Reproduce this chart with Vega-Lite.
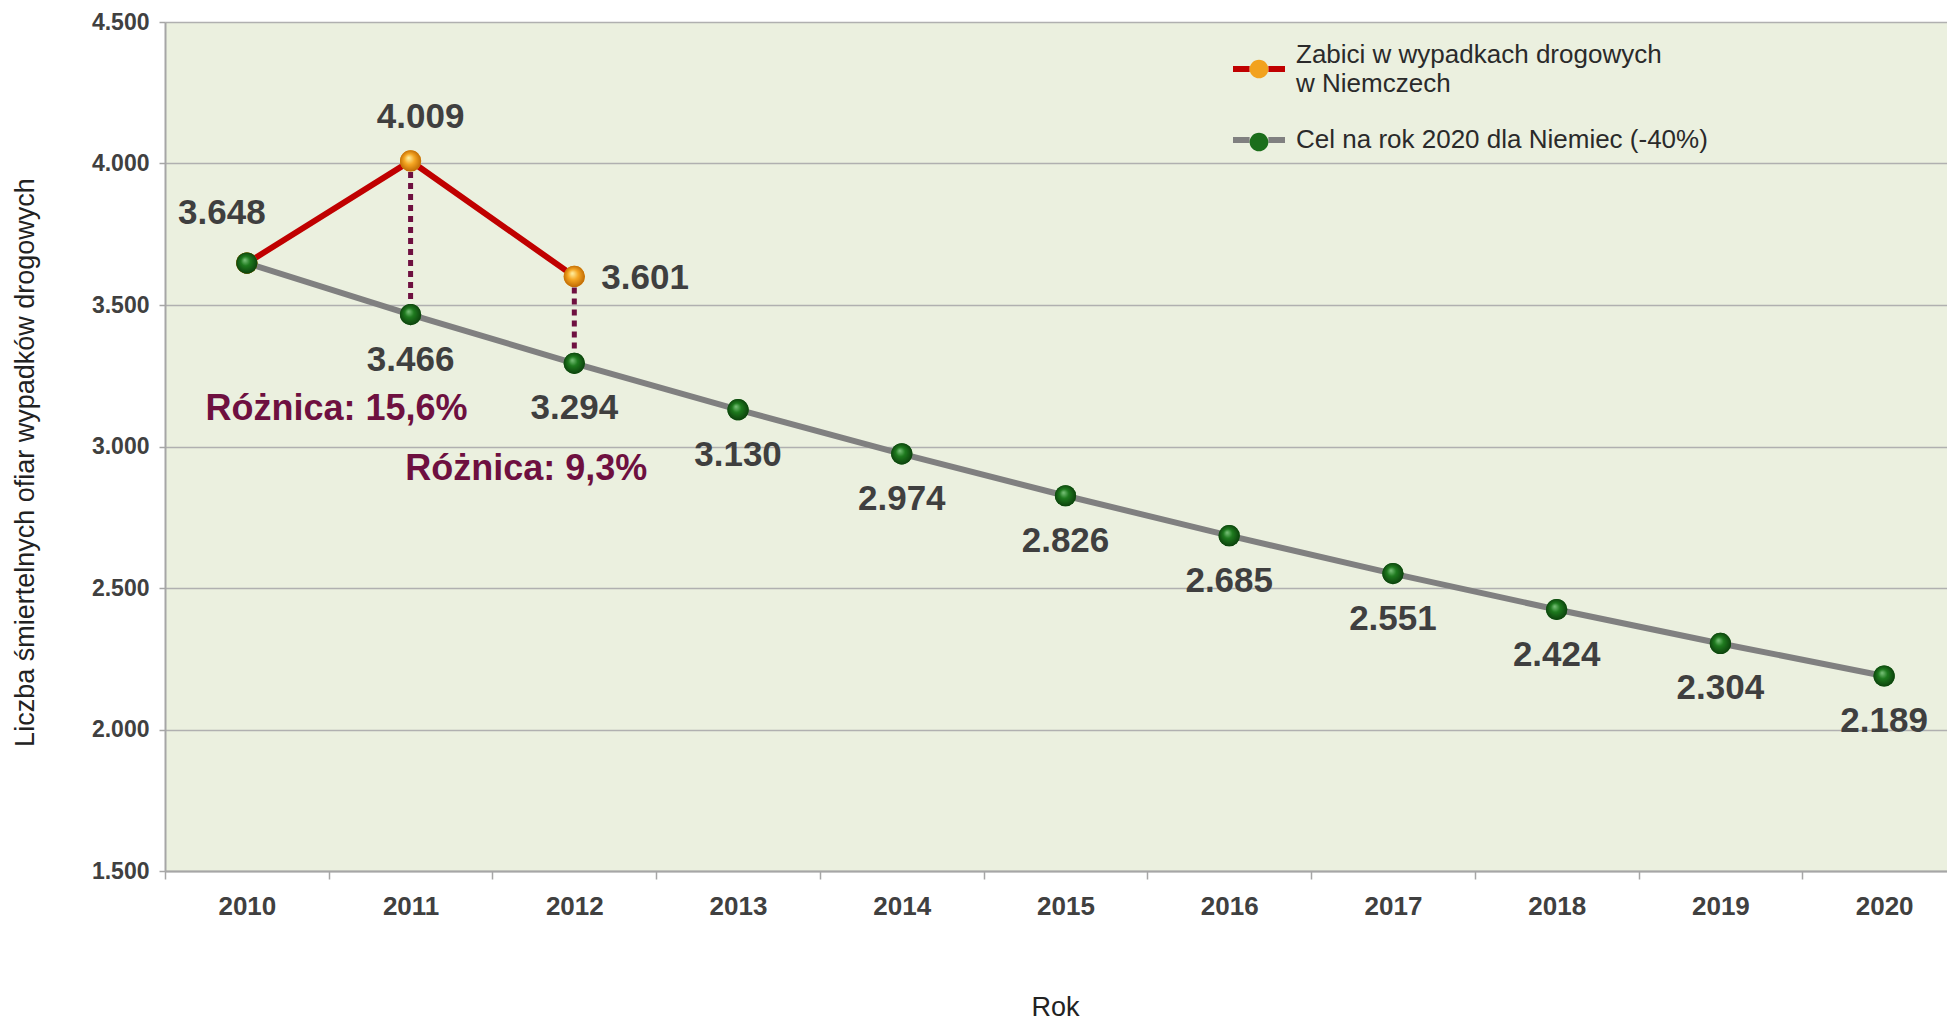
{
  "$schema": "https://vega.github.io/schema/vega-lite/v6.json",
  "autosize": "none",
  "width": 1782,
  "height": 849,
  "padding": {"left": 165, "top": 22, "right": 0, "bottom": 149},
  "background": "#FFFFFF",
  "config": {
    "locale": {"number": {"decimal": ",", "thousands": ".", "grouping": [3], "currency": ["", ""]}},
    "view": {"fill": "#EBF0DF", "stroke": null},
    "font": "Liberation Sans"
  },
  "datasets": {
    "series": [
      {"year": 2010, "value": 3648, "series": "Zabici w wypadkach drogowych w Niemczech"},
      {"year": 2011, "value": 4009, "series": "Zabici w wypadkach drogowych w Niemczech"},
      {"year": 2012, "value": 3601, "series": "Zabici w wypadkach drogowych w Niemczech"},
      {"year": 2010, "value": 3648, "series": "Cel na rok 2020 dla Niemiec (-40%)"},
      {"year": 2011, "value": 3466, "series": "Cel na rok 2020 dla Niemiec (-40%)"},
      {"year": 2012, "value": 3294, "series": "Cel na rok 2020 dla Niemiec (-40%)"},
      {"year": 2013, "value": 3130, "series": "Cel na rok 2020 dla Niemiec (-40%)"},
      {"year": 2014, "value": 2974, "series": "Cel na rok 2020 dla Niemiec (-40%)"},
      {"year": 2015, "value": 2826, "series": "Cel na rok 2020 dla Niemiec (-40%)"},
      {"year": 2016, "value": 2685, "series": "Cel na rok 2020 dla Niemiec (-40%)"},
      {"year": 2017, "value": 2551, "series": "Cel na rok 2020 dla Niemiec (-40%)"},
      {"year": 2018, "value": 2424, "series": "Cel na rok 2020 dla Niemiec (-40%)"},
      {"year": 2019, "value": 2304, "series": "Cel na rok 2020 dla Niemiec (-40%)"},
      {"year": 2020, "value": 2189, "series": "Cel na rok 2020 dla Niemiec (-40%)"}
    ],
    "gaps": [
      {"year": 2011, "top": 4009, "bottom": 3466},
      {"year": 2012, "top": 3601, "bottom": 3294}
    ],
    "notes": [
      {"year": 2011, "value": 3134, "text": "Różnica: 15,6%"},
      {"year": 2012, "value": 2919, "text": "Różnica: 9,3%"}
    ]
  },
  "encoding": {
    "x": {
      "field": "year", "type": "ordinal", "title": "Rok",
      "scale": {"range": [0, 1801], "paddingInner": 0, "paddingOuter": 0},
      "axis": {
        "labelAngle": 0, "labelFontSize": 26, "labelFontWeight": "bold", "labelColor": "#404040",
        "labelPadding": 14, "tickBand": "extent", "tickSize": 8, "tickColor": "#A6A6A6", "tickWidth": 1.5,
        "domainColor": "#A6A6A6", "domainWidth": 2,
        "titleFontSize": 27, "titleFontWeight": "normal", "titleColor": "#222222",
        "titleY": 136, "titleBaseline": "middle", "titleX": 890
      }
    },
    "y": {
      "field": "value", "type": "quantitative",
      "title": "Liczba śmiertelnych ofiar wypadków drogowych",
      "scale": {"domain": [1500, 4500], "nice": false, "zero": false},
      "axis": {
        "values": [1500, 2000, 2500, 3000, 3500, 4000, 4500], "format": ",.0f",
        "labelFontSize": 23, "labelFontWeight": "bold", "labelColor": "#404040", "labelPadding": 10,
        "tickSize": 6, "tickColor": "#A6A6A6", "tickWidth": 1.5,
        "domainColor": "#A6A6A6", "domainWidth": 2,
        "grid": true, "gridColor": "#B0B0B0", "gridWidth": 1.5,
        "titleFontSize": 27, "titleFontWeight": "normal", "titleColor": "#222222",
        "titleX": -140, "titleY": 440, "titleBaseline": "middle"
      }
    }
  },
  "layer": [
    {
      "data": {"name": "gaps"},
      "mark": {"type": "rule", "color": "#6E1040", "strokeWidth": 5, "strokeDash": [6, 5]},
      "encoding": {"y": {"field": "top", "type": "quantitative"}, "y2": {"field": "bottom"}}
    },
    {
      "data": {"name": "series"},
      "mark": {"type": "line", "strokeWidth": 6},
      "encoding": {
        "stroke": {
          "field": "series", "type": "nominal", "sort": "descending",
          "scale": {"range": ["#C00000", "#808080"]},
          "legend": {
            "title": null, "orient": "none", "legendX": 1065, "legendY": 18, "padding": 0,
            "symbolType": "M-1,0L-0.36,0M0.36,0L1,0M0,-0.36L0,-0.36M0,0.36L0,0.36",
            "symbolSize": 2704, "symbolStrokeWidth": 6,
            "labelFontSize": 26, "labelColor": "#2A2A2A", "labelOffset": 8, "labelLimit": 600,
            "labelBaseline": "middle", "rowPadding": 14,
            "labelExpr": "datum.label == 'Zabici w wypadkach drogowych w Niemczech' ? ['Zabici w wypadkach drogowych', 'w Niemczech'] : datum.label",
            "encode": {
              "labels": {"update": {"lineHeight": {"value": 29}, "dy": [
                {"test": "datum.value == 'Zabici w wypadkach drogowych w Niemczech'", "value": -14},
                {"value": 0}
              ]}},
              "symbols": {"update": {"strokeCap": {"value": "butt"}}}
            }
          }
        }
      }
    },
    {
      "data": {"name": "series"},
      "transform": [{"filter": "datum.value > 0"}],
      "mark": {"type": "point", "filled": true, "size": 450, "opacity": 1},
      "encoding": {
        "fill": {
          "field": "series", "type": "nominal", "sort": "descending",
          "scale": {"range": ["#F2A21E", "#1B6E1B"]},
          "legend": {
            "title": null, "orient": "none", "legendX": 1065, "legendY": 18, "padding": 0,
            "symbolType": "M-1,0L-0.36,0M0.36,0L1,0M0.36,0A0.36,0.36 0 1,1 -0.36,0A0.36,0.36 0 1,1 0.36,0Z",
            "symbolSize": 2704, "symbolStrokeWidth": 6, "symbolStrokeColor": "transparent",
            "labelFontSize": 26, "labelColor": "transparent", "labelOffset": 8, "labelLimit": 600,
            "labelBaseline": "middle", "rowPadding": 3,
            "labelExpr": "datum.label == 'Zabici w wypadkach drogowych w Niemczech' ? ['', ''] : ''",
            "encode": {
              "labels": {"update": {"lineHeight": {"value": 29}, "dy": [
                {"test": "datum.value == 'Zabici w wypadkach drogowych w Niemczech'", "value": -14},
                {"value": 0}
              ]}},
              "symbols": {"update": {"stroke": {"value": "transparent"}, "fill": [
                {"test": "datum.value == 'Zabici w wypadkach drogowych w Niemczech'", "value": {"gradient": "radial", "x1": 0.4, "y1": 0.35, "r1": 0, "x2": 0.5, "y2": 0.5, "r2": 0.55,
                  "stops": [{"offset": 0, "color": "#FFF3A8"}, {"offset": 0.45, "color": "#F5A623"}, {"offset": 1, "color": "#B86200"}]}},
                {"value": {"gradient": "radial", "x1": 0.4, "y1": 0.35, "r1": 0, "x2": 0.5, "y2": 0.5, "r2": 0.55,
                  "stops": [{"offset": 0, "color": "#7CC47C"}, {"offset": 0.4, "color": "#1E7A1E"}, {"offset": 1, "color": "#0A3A0A"}]}}
              ]}}
            }
          }
        }
      }
    },
    {
      "data": {"name": "series"},
      "transform": [{"filter": "datum.series == 'Zabici w wypadkach drogowych w Niemczech'"}],
      "mark": {"type": "point", "filled": true, "size": 450, "opacity": 1,
        "fill": {"gradient": "radial", "x1": 0.4, "y1": 0.35, "r1": 0, "x2": 0.5, "y2": 0.5, "r2": 0.55,
          "stops": [{"offset": 0, "color": "#FFF3A8"}, {"offset": 0.45, "color": "#F5A623"}, {"offset": 1, "color": "#B86200"}]}},
      "encoding": {}
    },
    {
      "data": {"name": "series"},
      "transform": [{"filter": "datum.series == 'Cel na rok 2020 dla Niemiec (-40%)'"}],
      "mark": {"type": "point", "filled": true, "size": 450, "opacity": 1,
        "fill": {"gradient": "radial", "x1": 0.4, "y1": 0.35, "r1": 0, "x2": 0.5, "y2": 0.5, "r2": 0.55,
          "stops": [{"offset": 0, "color": "#7CC47C"}, {"offset": 0.4, "color": "#1E7A1E"}, {"offset": 1, "color": "#0A3A0A"}]}},
      "encoding": {}
    },
    {
      "data": {"name": "series"},
      "transform": [{"filter": "datum.series == 'Cel na rok 2020 dla Niemiec (-40%)' && datum.year > 2010"}],
      "mark": {"type": "text", "fontSize": 35, "fontWeight": "bold", "color": "#3F3F3F", "dy": 45, "baseline": "middle"},
      "encoding": {"text": {"field": "value", "type": "quantitative", "format": ",.0f"}}
    },
    {
      "data": {"name": "series"},
      "transform": [{"filter": "datum.series == 'Zabici w wypadkach drogowych w Niemczech' && datum.year == 2010"}],
      "mark": {"type": "text", "fontSize": 35, "fontWeight": "bold", "color": "#3F3F3F", "dx": -25, "dy": -50, "baseline": "middle"},
      "encoding": {"text": {"field": "value", "type": "quantitative", "format": ",.0f"}}
    },
    {
      "data": {"name": "series"},
      "transform": [{"filter": "datum.series == 'Zabici w wypadkach drogowych w Niemczech' && datum.year == 2011"}],
      "mark": {"type": "text", "fontSize": 35, "fontWeight": "bold", "color": "#3F3F3F", "dx": 10, "dy": -44, "baseline": "middle"},
      "encoding": {"text": {"field": "value", "type": "quantitative", "format": ",.0f"}}
    },
    {
      "data": {"name": "series"},
      "transform": [{"filter": "datum.series == 'Zabici w wypadkach drogowych w Niemczech' && datum.year == 2012"}],
      "mark": {"type": "text", "fontSize": 35, "fontWeight": "bold", "color": "#3F3F3F", "dx": 27, "dy": 2, "align": "left", "baseline": "middle"},
      "encoding": {"text": {"field": "value", "type": "quantitative", "format": ",.0f"}}
    },
    {
      "data": {"name": "notes"},
      "transform": [{"filter": "datum.year == 2011"}],
      "mark": {"type": "text", "fontSize": 36, "fontWeight": "bold", "color": "#6E1040", "dx": -74, "baseline": "middle"},
      "encoding": {"text": {"field": "text", "type": "nominal"}}
    },
    {
      "data": {"name": "notes"},
      "transform": [{"filter": "datum.year == 2012"}],
      "mark": {"type": "text", "fontSize": 36, "fontWeight": "bold", "color": "#6E1040", "dx": -48, "baseline": "middle"},
      "encoding": {"text": {"field": "text", "type": "nominal"}}
    }
  ]
}
